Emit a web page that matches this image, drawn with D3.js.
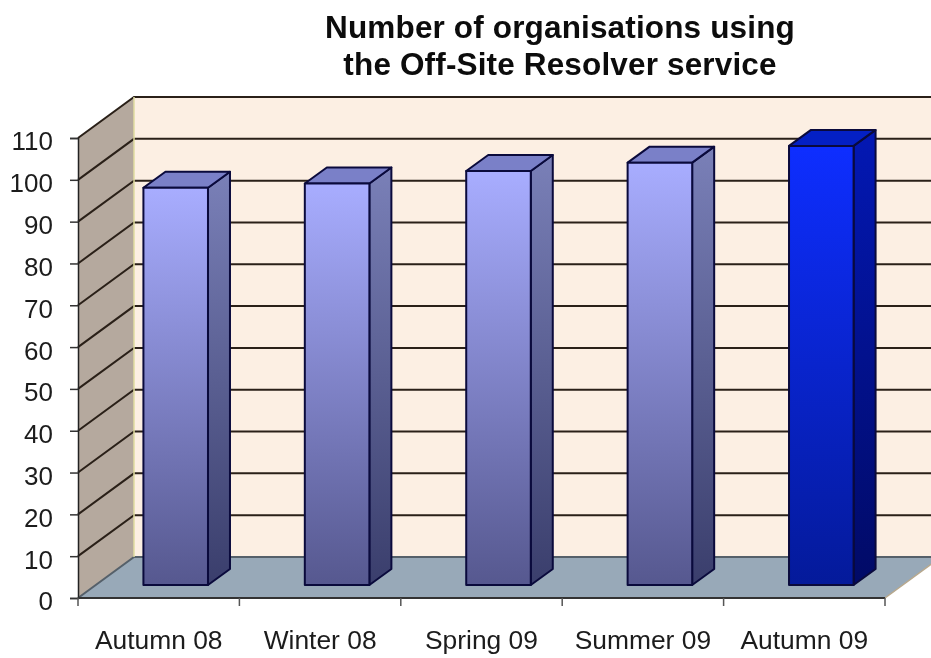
<!DOCTYPE html>
<meta charset="utf-8">
<style>
body { margin: 0; background: #fff; font-family: "Liberation Sans", Arial, sans-serif; }
svg { display: block; filter: blur(0.45px); }
.tick text { fill: #1c1c1c; }
</style>
<svg width="931" height="658"></svg>
<script src="https://d3js.org/d3.v7.min.js"></script>
<script>

var categories = ["Autumn 08", "Winter 08", "Spring 09", "Summer 09", "Autumn 09"];
var values = [95, 96, 99, 101, 105];
var yTicks = [0, 10, 20, 30, 40, 50, 60, 70, 80, 90, 100, 110];
var titleLines = ["Number of organisations using", "the Off-Site Resolver service"];

var svg = d3.select("svg");

var left = 78, right = 885, bottom = 598, top_ = 138;
// offset of the back wall from the front plane
var depthX = 56, depthY = 41;
// bars stand part way into the floor
var barX = 17, barY = 13, barDX = 22, barDY = 16;

var y = d3.scaleLinear().domain([0, 110]).range([bottom, top_]);
var x = d3.scaleBand().domain(categories).range([left, right]).paddingInner(0.6).paddingOuter(0.3);
var xEdges = d3.scaleLinear().domain([0, categories.length]).range([left, right]);

function poly(pts) { return "M" + pts.map(function(p) { return p.join(","); }).join("L") + "Z"; }

var defs = svg.append("defs");
function gradient(id, c0, c1) {
  var g = defs.append("linearGradient").attr("id", id).attr("x1", 0).attr("y1", 0).attr("x2", 0).attr("y2", 1);
  g.append("stop").attr("offset", 0).attr("stop-color", c0);
  g.append("stop").attr("offset", 1).attr("stop-color", c1);
}
gradient("frontA", "#a8adff", "#56588f");
gradient("sideA", "#7a80b8", "#3a3e6c");
gradient("frontB", "#0e2eff", "#041a9a");
gradient("sideB", "#0318b4", "#010a66");

// back wall
svg.append("rect")
    .attr("x", left + depthX).attr("y", y(110) - depthY)
    .attr("width", right - left).attr("height", bottom - top_)
    .attr("fill", "#fcefe3");

// left wall
svg.append("path")
    .attr("d", poly([[left, y(0)], [left + depthX, y(0) - depthY], [left + depthX, y(110) - depthY], [left, y(110)]]))
    .attr("fill", "#b5a99e");

// floor
svg.append("path")
    .attr("d", poly([[left, y(0)], [left + depthX, y(0) - depthY], [right + depthX, y(0) - depthY], [right, y(0)]]))
    .attr("fill", "#98a9b8");
svg.append("line")
    .attr("x1", right).attr("y1", y(0)).attr("x2", right + depthX).attr("y2", y(0) - depthY)
    .attr("stroke", "#b8a88c").attr("stroke-width", 1.5);

// gridlines, wall and back
var grid = svg.append("g").attr("fill", "none");
grid.selectAll("path").data(yTicks).enter().append("path")
    .attr("d", function(d) {
      return "M" + left + "," + y(d) + "L" + (left + depthX) + "," + (y(d) - depthY) + "L" + (right + depthX) + "," + (y(d) - depthY);
    })
    .attr("stroke", function(d) { return d === 0 ? "#55606a" : "#2a2018"; })
    .attr("stroke-width", 2);
svg.append("line")
    .attr("x1", left + depthX).attr("x2", left + depthX)
    .attr("y1", y(110) - depthY).attr("y2", y(0) - depthY)
    .attr("stroke", "#e0dca0").attr("stroke-width", 1.5);

// bars
var bars = svg.append("g").selectAll("g").data(categories).enter().append("g")
    .attr("stroke", "#0a0a3c").attr("stroke-width", 2).attr("stroke-linejoin", "round");

function bx(c) { return x(c) + barX; }
function last(i) { return i === categories.length - 1; }

bars.append("path")
    .attr("d", function(c, i) {
      var x1 = bx(c) + x.bandwidth(), t = y(values[i]) - barY;
      return poly([[x1, y(0) - barY], [x1 + barDX, y(0) - barY - barDY], [x1 + barDX, t - barDY], [x1, t]]);
    })
    .attr("fill", function(c, i) { return last(i) ? "url(#sideB)" : "url(#sideA)"; });
bars.append("path")
    .attr("d", function(c, i) {
      var x0 = bx(c), x1 = x0 + x.bandwidth(), t = y(values[i]) - barY;
      return poly([[x0, t], [x0 + barDX, t - barDY], [x1 + barDX, t - barDY], [x1, t]]);
    })
    .attr("fill", function(c, i) { return last(i) ? "#0420c4" : "#7a80c8"; });
bars.append("rect")
    .attr("x", bx)
    .attr("y", function(c, i) { return y(values[i]) - barY; })
    .attr("width", x.bandwidth())
    .attr("height", function(c, i) { return y(0) - y(values[i]); })
    .attr("fill", function(c, i) { return last(i) ? "url(#frontB)" : "url(#frontA)"; });

// axes
var yAxis = svg.append("g").attr("transform", "translate(" + left + ",0)")
    .call(d3.axisLeft(y).tickValues(yTicks).tickSize(8).tickPadding(17));
yAxis.selectAll("text").attr("font-size", 26).attr("font-family", "Liberation Sans").attr("dy", ".46em");
yAxis.selectAll("line").attr("stroke", "#333").attr("stroke-width", 1.5);
yAxis.select(".domain").attr("stroke", "#222").attr("stroke-width", 1.5);

svg.append("line")
    .attr("x1", left).attr("x2", right).attr("y1", bottom).attr("y2", bottom)
    .attr("stroke", "#333").attr("stroke-width", 2);
svg.append("g").selectAll("line").data(d3.range(categories.length + 1)).enter().append("line")
    .attr("x1", function(d) { return xEdges(d); }).attr("x2", function(d) { return xEdges(d); })
    .attr("y1", bottom).attr("y2", bottom + 8)
    .attr("stroke", "#555").attr("stroke-width", 1.5);

svg.append("g").selectAll("text").data(categories).enter().append("text")
    .attr("x", function(c) { return x(c) + x.bandwidth() / 2; })
    .attr("y", 649)
    .attr("text-anchor", "middle")
    .attr("font-size", 26.4)
    .attr("fill", "#1c1c1c")
    .text(function(c) { return c; });

svg.append("g").selectAll("text").data(titleLines).enter().append("text")
    .attr("x", 560)
    .attr("y", function(d, i) { return 38 + i * 36.5; })
    .attr("text-anchor", "middle")
    .attr("font-size", 31.5)
    .attr("letter-spacing", 0.15)
    .attr("font-weight", "bold")
    .attr("fill", "#0c0c0c")
    .text(function(d) { return d; });

</script>
